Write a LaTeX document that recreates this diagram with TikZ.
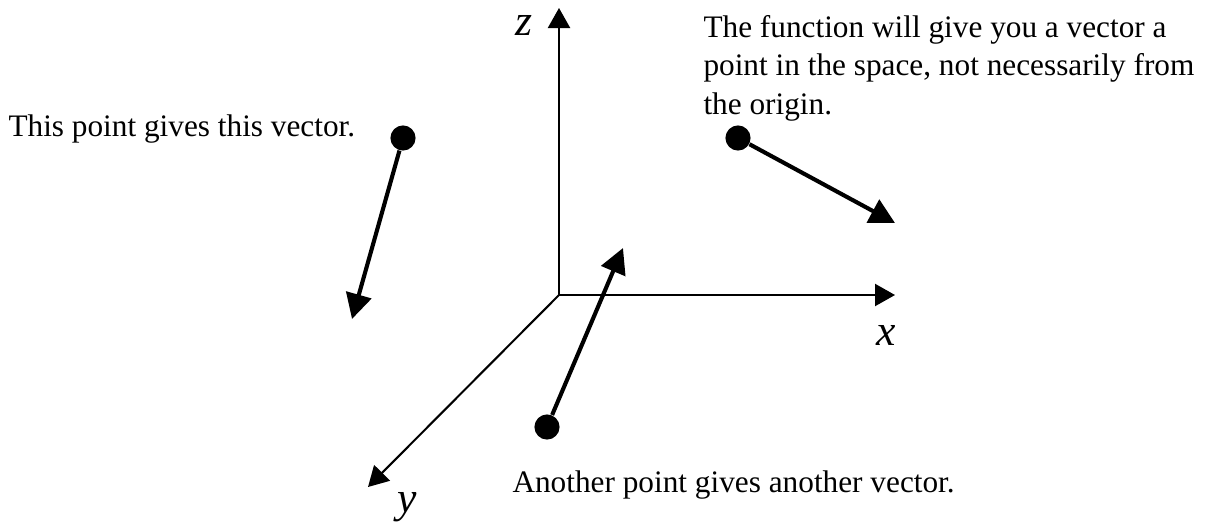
\documentclass[tikz,border=0pt]{standalone}
\usepackage{fontspec}
\setmainfont{Liberation Serif}
\usetikzlibrary{arrows.meta}

\tikzset{
  axis/.style={line width=0.8pt, -{Triangle[length=7.8pt, width=8.6pt]}},
  vec/.style={line width=1.6pt, -{Triangle[length=9.8pt, width=10pt]}},
  dot/.style={circle, fill=black, inner sep=0pt, minimum size=9.8pt},
  axlabel/.style={font=\fontsize{17}{20}\selectfont\itshape, inner sep=0pt, anchor=base},
  note/.style={font=\fontsize{12.2}{15}\selectfont, inner sep=0pt, anchor=base west, align=left},
}

\begin{document}
\begin{tikzpicture}[x=0.39pt, y=-0.39pt]
  \useasboundingbox (0,0) rectangle (1215,522);

  % axes
  \coordinate (O) at (559,295);
  \coordinate (zend) at (559,8);
  \coordinate (xend) at (895,295);
  \coordinate (yend) at (368,487);
  \draw[axis] (O) -- (zend);
  \draw[axis] (O) -- (xend);
  \draw[axis] (O) -- (yend);
  \node[axlabel] (zlab) at (524,35) {z};
  \node[axlabel] (xlab) at (886,345) {x};
  \node[axlabel] (ylab) at (407,512) {y};

  % points and the vectors they give
  \node[dot] (p1) at (403,138) {};
  \coordinate (t1) at (352,319);
  \draw[vec] (p1) -- (t1);

  \node[dot] (p2) at (738,138) {};
  \coordinate (t2) at (895,223);
  \draw[vec] (p2) -- (t2);

  \node[dot] (p3) at (547,427) {};
  \coordinate (t3) at (623,248);
  \draw[vec] (p3) -- (t3);

  % texts (base anchor sits on the last line)
  \node[note] (n1) at (8,136) {This point gives this vector.};
  \node[note] (n2) at (703,114) {The function will give you a vector a\\
    point in the space, not necessarily from\\
    the origin.};
  \node[note] (n3) at (512,492) {Another point gives another vector.};
\end{tikzpicture}
\end{document}
